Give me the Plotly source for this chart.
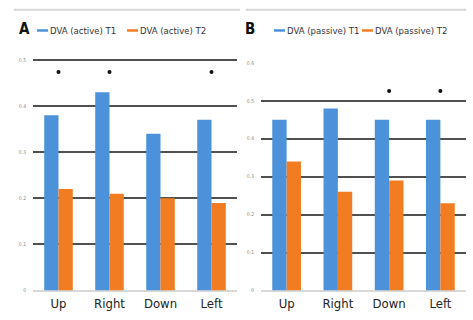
import plotly.graph_objects as go

categories = ["Up", "Right", "Down", "Left"]
active_t1 = [0.38, 0.43, 0.34, 0.37]
active_t2 = [0.22, 0.21, 0.20, 0.19]
passive_t1 = [0.45, 0.48, 0.45, 0.45]
passive_t2 = [0.34, 0.26, 0.29, 0.23]
sig_active = [1, 1, 0, 1]
sig_passive = [0, 0, 1, 1]
ticks_a = [0, 0.1, 0.2, 0.3, 0.4, 0.5]
ticks_b = [0, 0.1, 0.2, 0.3, 0.4, 0.5, 0.6]
tick_text_a = ["0", "0.1", "0.2", "0.3", "0.4", "0.5"]
tick_text_b = ["0", "0.1", "0.2", "0.3", "0.4", "0.5", "0.6"]

BLUE = "#4B92DB"
ORANGE = "#F27C22"
W, H = 473, 320
FONT = "DejaVu Sans Condensed, Liberation Sans Narrow, Arial Narrow, sans-serif"

def px(x):
    return x / W

def py(y):
    return 1 - y / H

fig = go.Figure()

fig.add_trace(go.Bar(x=categories, y=active_t1, marker=dict(color=BLUE, line=dict(width=0)),
                     xaxis="x", yaxis="y", showlegend=False))
fig.add_trace(go.Bar(x=categories, y=active_t2, marker=dict(color=ORANGE, line=dict(width=0)),
                     xaxis="x", yaxis="y", showlegend=False))
fig.add_trace(go.Bar(x=categories, y=passive_t1, marker=dict(color=BLUE, line=dict(width=0)),
                     xaxis="x2", yaxis="y2", showlegend=False))
fig.add_trace(go.Bar(x=categories, y=passive_t2, marker=dict(color=ORANGE, line=dict(width=0)),
                     xaxis="x2", yaxis="y2", showlegend=False))

star_a = [c for c, s in zip(categories, sig_active) if s]
star_b = [c for c, s in zip(categories, sig_passive) if s]
fig.add_trace(go.Scatter(x=star_a, y=[0.474] * len(star_a), mode="markers",
                         marker=dict(color="#111", size=4), xaxis="x", yaxis="y", showlegend=False))
fig.add_trace(go.Scatter(x=star_b, y=[0.526] * len(star_b), mode="markers",
                         marker=dict(color="#111", size=4), xaxis="x2", yaxis="y2", showlegend=False))

# y-axis label overlay for B (no grid), grid axis shows only up to 0.5
fig.add_trace(go.Scatter(x=[None], y=[None], xaxis="x2", yaxis="y3", showlegend=False))

grid_color = "#505050"
tickfont = dict(family=FONT, size=5, color="#888")
xfont = dict(family=FONT, size=13, color="#222")

ytop_a = 0.503  # slight headroom so the 0.5 gridline is drawn
fig.update_layout(
    width=W, height=H,
    margin=dict(l=0, r=0, t=0, b=0),
    paper_bgcolor="white", plot_bgcolor="rgba(0,0,0,0)",
    barmode="group", bargap=0.44, bargroupgap=0,
    xaxis=dict(domain=[px(33), px(237)], anchor="y", showgrid=False, zeroline=False,
               showline=False, ticks="", tickfont=xfont, fixedrange=True, ticklabelstandoff=3),
    yaxis=dict(domain=[py(293), py(293 - 235 * ytop_a / 0.5)], anchor="x", range=[0, ytop_a],
               tickvals=ticks_a, ticktext=tick_text_a, tickfont=tickfont,
               showgrid=True, gridcolor=grid_color, gridwidth=1.7,
               zeroline=True, zerolinecolor="#d9d9d9", zerolinewidth=2,
               showline=False, ticks="", ticklabelstandoff=6),
    xaxis2=dict(domain=[px(261), px(466)], anchor="y2", showgrid=False, zeroline=False,
                showline=False, ticks="", tickfont=xfont, fixedrange=True, ticklabelstandoff=3),
    yaxis2=dict(domain=[py(293), py(61)], anchor="x2", range=[0, 0.6],
                tickvals=ticks_b[:-1], showticklabels=False,
                showgrid=True, gridcolor=grid_color, gridwidth=1.7,
                zeroline=True, zerolinecolor="#d9d9d9", zerolinewidth=2,
                showline=False, ticks=""),
    yaxis3=dict(overlaying="y2", anchor="x2", range=[0, 0.6],
                tickvals=ticks_b, ticktext=tick_text_b, tickfont=tickfont,
                showgrid=False, zeroline=False, showline=False, ticks="",
                ticklabelstandoff=6, side="left"),
)

# frame lines at the top
fig.add_shape(type="line", xref="paper", yref="paper", x0=px(14), x1=px(240), y0=py(7), y1=py(7),
              line=dict(color="#d6d6d6", width=2))
fig.add_shape(type="line", xref="paper", yref="paper", x0=px(246), x1=px(466), y0=py(7), y1=py(7),
              line=dict(color="#d6d6d6", width=2))

def ann(text, x, y, size, color="#222", bold=False):
    fig.add_annotation(text=("<b>%s</b>" % text) if bold else text, xref="paper", yref="paper",
                       x=px(x), y=py(y), xanchor="left", yanchor="middle", showarrow=False,
                       font=dict(family=FONT, size=size, color=color))

ann("A", 17, 27, 15, "#111", bold=True)
ann("B", 243, 27, 15, "#111", bold=True)

def legend_item(color, label, x0, x1, xt, y):
    fig.add_shape(type="line", xref="paper", yref="paper", x0=px(x0), x1=px(x1), y0=py(y), y1=py(y),
                  line=dict(color=color, width=2.5))
    fig.add_annotation(text=label, xref="paper", yref="paper", x=px(xt), y=py(y),
                       xanchor="left", yanchor="middle", showarrow=False,
                       font=dict(family=FONT, size=9.5, color="#333"))

legend_item(BLUE, "DVA (active) T1", 37, 48, 48, 28)
legend_item(ORANGE, "DVA (active) T2", 127, 138, 138, 28)
legend_item(BLUE, "DVA (passive) T1", 274, 285, 285, 28)
legend_item(ORANGE, "DVA (passive) T2", 362, 373, 373, 28)

fig.write_html("out.html")
